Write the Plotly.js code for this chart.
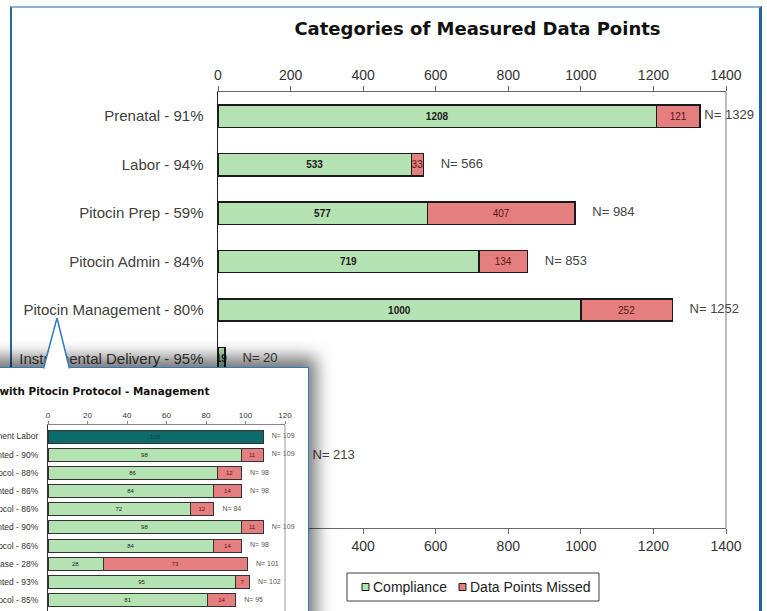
<!DOCTYPE html>
<html>
<head>
<meta charset="utf-8">
<script src="https://cdn.plot.ly/plotly-3.0.1.min.js"></script>
<style>
html,body{margin:0;padding:0;width:767px;height:611px;overflow:hidden;background:#fff;}
body{position:relative;}
#frame{position:absolute;left:10px;top:6px;width:752px;height:700px;border-left:2px solid #2b6899;border-top:2px solid #8db5d1;border-right:3px solid #1f64a5;box-sizing:border-box;}
#main{position:absolute;left:0;top:0;width:767px;height:611px;}
#inset{position:absolute;left:-200px;top:367px;width:509px;height:290px;background:#fff;border:1.5px solid #2e7bbf;box-sizing:border-box;box-shadow:4px -7px 16px 3px rgba(0,0,0,0.55);}
#insetplot{position:absolute;left:0;top:0;width:506px;height:287px;}
#pointer{position:absolute;left:0;top:0;width:767px;height:611px;pointer-events:none;}
</style>
</head>
<body>
<div id="frame"></div>
<div id="main"></div>
<div id="inset"><div id="insetplot"></div></div>
<svg id="pointer" width="767" height="611">
  <polygon points="43,370 57,318 70,370" fill="#ffffff" stroke="none"></polygon>
  <polyline points="43.5,368.5 57,318 69.5,368.5" fill="none" stroke="#2e7bbf" stroke-width="1.5"></polyline>
</svg>
<script>
// ---------- Main chart data ----------
// the last three rows are covered by the inset in the original; only the N= 213 total is visible
const categories = [
  "Prenatal - 91%",
  "Labor - 94%",
  "Pitocin Prep - 59%",
  "Pitocin Admin - 84%",
  "Pitocin Management - 80%",
  "Instrumental Delivery - 95%",
  "Row 7",
  "Row 8",
  "Row 9"
];
const visibleCategories = categories.slice(0, 6);
const compliance = [1208, 533, 577, 719, 1000, 19, null, 192, null];
const missed     = [121, 33, 407, 134, 252, 1, null, 21, null];
const seriesNames = ["Compliance", "Data Points Missed"];

// ---------- Inset chart data ----------
const insetCategories = [
  "Pitocin to Augment Labor",
  "Start Dose Documented - 90%",
  "Start Dose per Protocol - 88%",
  "Increment Documented - 86%",
  "Increment per Protocol - 86%",
  "Interval Documented - 90%",
  "Interval per Protocol - 86%",
  "Maximum Dose Increase - 28%",
  "Max Dose Documented - 93%",
  "Max Dose per Protocol - 85%"
];
const insetAugment    = [109, null, null, null, null, null, null, null, null, null];
const insetCompliance = [null, 98, 86, 84, 72, 98, 84, 28, 95, 81];
const insetMissed     = [null, 11, 12, 14, 12, 11, 14, 73, 7, 14];

const FONT = 'Liberation Sans, Arial, sans-serif';
const GREEN = '#b5e2b3', RED = '#e57f7f', TEAL = '#0c6b6b';

function sumArr(a, b, c) {
  return a.map((v, i) => {
    const vals = [v, b[i], c ? c[i] : null].filter(x => x != null);
    return vals.length ? vals.reduce((s, x) => s + x, 0) : null;
  });
}

// ---------- Main chart ----------
const totals = sumArr(compliance, missed);
const isVisible = i => visibleCategories.indexOf(categories[i]) !== -1;
const labelOf = (v, min) => (v == null || v < min) ? '' : String(v);

const mainTraces = [
  {
    type: 'bar', orientation: 'h', name: seriesNames[0],
    y: categories, x: compliance,
    marker: {color: GREEN, line: {color: '#1a1a1a', width: 1.5}},
    text: compliance.map((v, i) => isVisible(i) ? labelOf(v, 5) : ''),
    textposition: 'inside', insidetextanchor: 'middle', constraintext: 'none', textangle: 0,
    insidetextfont: {family: FONT, size: 10, color: '#1a1a1a', weight: 'bold'},
    hoverinfo: 'skip'
  },
  {
    type: 'bar', orientation: 'h', name: seriesNames[1],
    y: categories, x: missed,
    marker: {color: RED, line: {color: '#1a1a1a', width: 1.5}},
    text: missed.map((v, i) => isVisible(i) ? labelOf(v, 5) : ''),
    textposition: 'inside', insidetextanchor: 'middle', constraintext: 'none', textangle: 0,
    insidetextfont: {family: FONT, size: 10, color: '#5a1414'},
    hoverinfo: 'skip'
  },
  {
    type: 'scatter', mode: 'markers+text', xaxis: 'x2', showlegend: false,
    y: categories, x: totals,
    text: totals.map(t => t == null ? '' : 'N= ' + t),
    textposition: 'middle right',
    marker: {size: totals.map(t => (t != null && t > 1300) ? 5 : 26), opacity: 0},
    textfont: {family: FONT, size: 13, color: '#444'},
    cliponaxis: false, hoverinfo: 'skip'
  }
];

const xCommon = {
  range: [0, 1400], tick0: 0, dtick: 200, ticks: 'outside', ticklen: 5, tickcolor: '#666',
  showline: true, linecolor: '#666', linewidth: 1, showgrid: false, zeroline: false,
  tickfont: {family: FONT, size: 14, color: '#333'}, fixedrange: true
};

// plot area in pixels (for the hand-drawn legend box)
const PL = 218, PR = 726, PT = 92, PB = 528;
const px2x = p => (p - PL) / (PR - PL);
const px2y = p => (PB - p) / (PB - PT);

function legendItems() {
  const shapes = [{
    type: 'rect', xref: 'paper', yref: 'paper',
    x0: px2x(347), x1: px2x(599), y0: px2y(601), y1: px2y(573),
    line: {color: '#404040', width: 1}, fillcolor: '#ffffff'
  }];
  const annotations = [];
  const starts = [362, 459];
  const colors = [GREEN, RED];
  seriesNames.forEach((n, i) => {
    shapes.push({
      type: 'rect', xref: 'paper', yref: 'paper',
      x0: px2x(starts[i]), x1: px2x(starts[i] + 7), y0: px2y(590.5), y1: px2y(583.5),
      line: {color: '#1a1a1a', width: 1}, fillcolor: colors[i]
    });
    annotations.push({
      text: n, xref: 'paper', yref: 'paper', x: px2x(starts[i] + 9), y: px2y(587),
      xanchor: 'left', yanchor: 'middle', showarrow: false,
      font: {family: FONT, size: 14, color: '#222'}
    });
  });
  return {shapes, annotations};
}
const leg = legendItems();

const mainLayout = {
  width: 767, height: 611,
  margin: {l: 218, r: 41, t: 92, b: 83, pad: 0, autoexpand: false},
  paper_bgcolor: 'rgba(0,0,0,0)', plot_bgcolor: 'rgba(0,0,0,0)',
  barmode: 'stack', bargap: 0.54, showlegend: false,
  font: {family: FONT, color: '#333'},
  title: {
    text: 'Categories of Measured Data Points',
    font: {family: 'DejaVu Sans, Verdana, sans-serif', size: 18, weight: 'bold', color: '#111'},
    x: 0.6225, xanchor: 'center', y: 0.9525, yanchor: 'middle'
  },
  xaxis: Object.assign({side: 'top'}, xCommon),
  xaxis2: Object.assign({side: 'bottom', overlaying: 'x', anchor: 'y'}, xCommon),
  yaxis: {
    type: 'category', range: [categories.length - 0.5, -0.5], showline: true, linecolor: '#222', linewidth: 1.5,
    tickmode: 'array', tickvals: visibleCategories, ticktext: visibleCategories,
    ticks: '', showgrid: false, zeroline: false, ticklabelstandoff: 10,
    tickfont: {family: FONT, size: 15, color: '#404040'}, fixedrange: true
  },
  shapes: [{type: 'line', xref: 'paper', yref: 'paper', x0: 1, x1: 1, y0: 0, y1: 1, line: {color: '#777', width: 1}}].concat(leg.shapes),
  annotations: leg.annotations
};

Plotly.newPlot('main', mainTraces, mainLayout, {staticPlot: true, displayModeBar: false});

// ---------- Inset chart ----------
const insetTotals = sumArr(insetAugment, insetCompliance, insetMissed);

const insetBarBase = (name, xs, color, textColor) => ({
  type: 'bar', orientation: 'h', name: name, showlegend: false,
  y: insetCategories, x: xs,
  marker: {color: color, line: {color: '#333', width: 1}},
  text: xs.map(v => labelOf(v, 1)),
  textposition: 'inside', insidetextanchor: 'middle', constraintext: 'none', textangle: 0,
  insidetextfont: {family: FONT, size: 6, color: textColor},
  hoverinfo: 'skip'
});

const insetTraces = [
  insetBarBase('Augmented Labor', insetAugment, TEAL, '#1a3a3a'),
  insetBarBase('Compliance', insetCompliance, GREEN, '#1a1a1a'),
  insetBarBase('Data Points Missed', insetMissed, RED, '#5a1414'),
  {
    type: 'scatter', mode: 'markers+text', showlegend: false,
    y: insetCategories, x: insetTotals,
    text: insetTotals.map(t => t == null ? '' : 'N= ' + t),
    textposition: 'middle right',
    marker: {size: 12, opacity: 0},
    textfont: {family: FONT, size: 7, color: '#555'},
    cliponaxis: false, hoverinfo: 'skip'
  }
];

const insetLayout = {
  width: 506, height: 287,
  margin: {l: 247, r: 22, t: 57, b: 20, pad: 0, autoexpand: false},
  paper_bgcolor: '#fff', plot_bgcolor: 'rgba(0,0,0,0)',
  barmode: 'stack', bargap: 0.285,
  font: {family: FONT, color: '#333'},
  showlegend: false,
  xaxis: {
    side: 'top', range: [0, 120], tick0: 0, dtick: 20, ticks: 'outside', ticklen: 3, tickcolor: '#888',
    showline: true, linecolor: '#888', linewidth: 1, showgrid: false, zeroline: false,
    tickfont: {family: FONT, size: 8, color: '#333'}, fixedrange: true
  },
  yaxis: {
    type: 'category', range: [10.92, -0.633], showline: true, linecolor: '#333', linewidth: 1,
    ticks: '', showgrid: false, zeroline: false, ticklabelstandoff: 7,
    tickfont: {family: FONT, size: 8.5, color: '#333'}, fixedrange: true
  },
  shapes: [{type: 'line', xref: 'paper', yref: 'paper', x0: 1, x1: 1, y0: 0, y1: 1, line: {color: '#999', width: 1}}],
  annotations: [{
    text: 'Compliance with Pitocin Protocol - Management',
    xref: 'paper', yref: 'paper', x: 0.686, xanchor: 'right', y: 1.16, yanchor: 'middle',
    showarrow: false,
    font: {family: 'DejaVu Sans, Verdana, sans-serif', size: 10.4, weight: 'bold', color: '#111'}
  }]
};

Plotly.newPlot('insetplot', insetTraces, insetLayout, {staticPlot: true, displayModeBar: false});
</script>
</body>
</html>
